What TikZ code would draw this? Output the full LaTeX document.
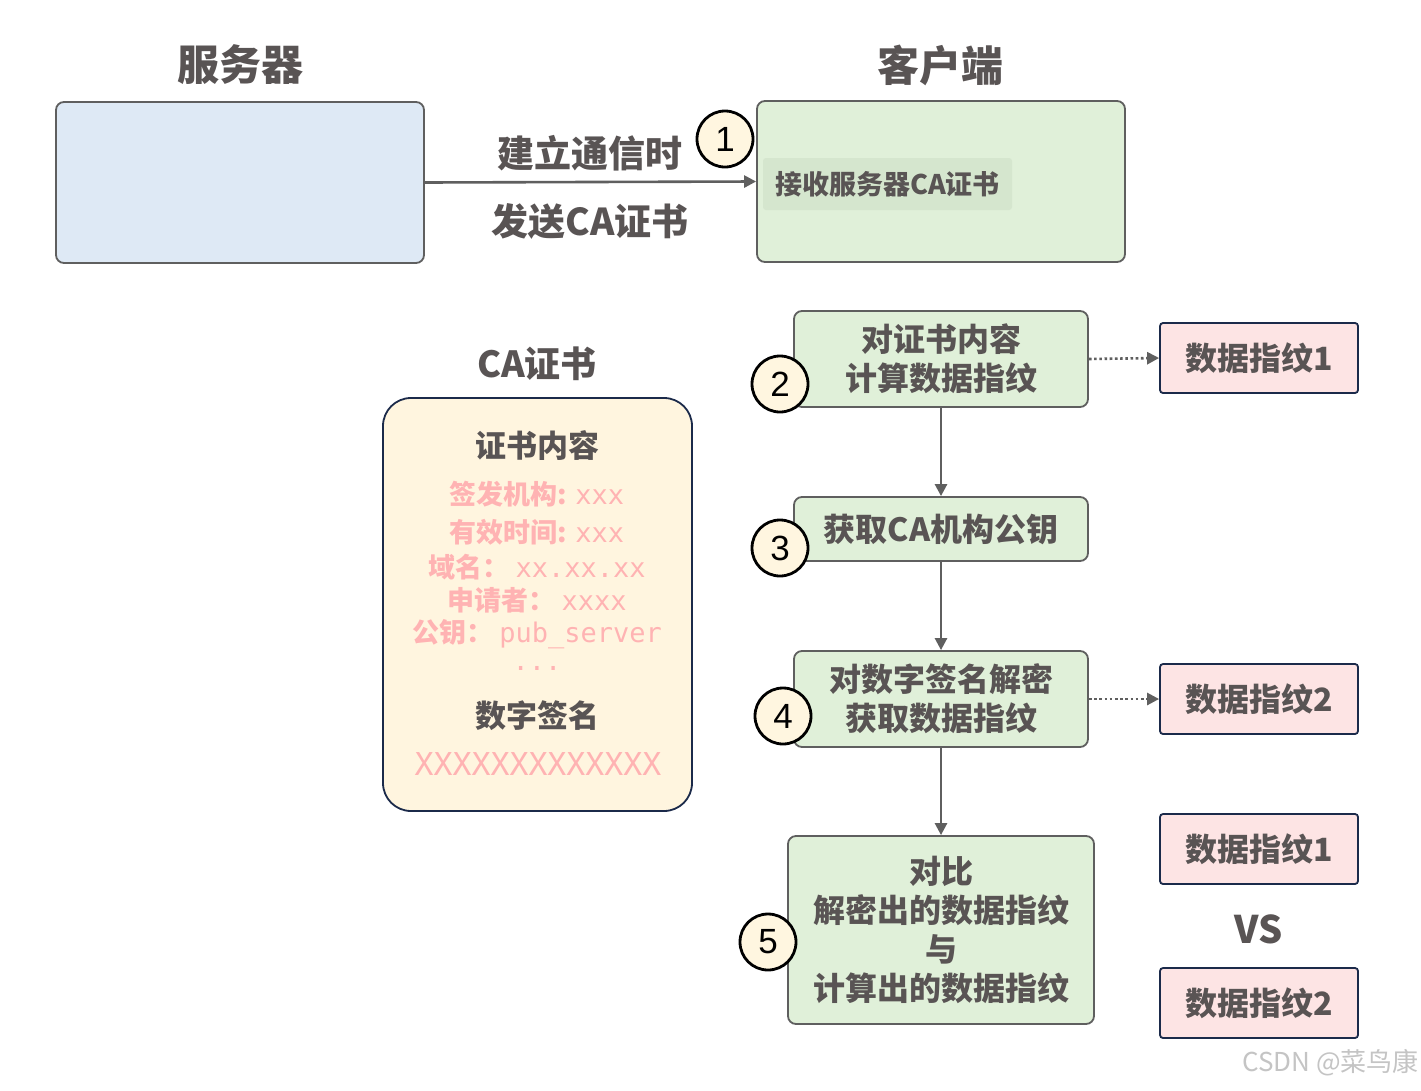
\documentclass[tikz,border=0pt]{standalone}
\usepackage{fontspec}
\setmainfont{Noto Sans CJK SC}
\newfontfamily\monof{DejaVu Sans Mono}
\newfontfamily\numf{Liberation Sans}
\usetikzlibrary{arrows.meta}
\definecolor{tx}{HTML}{595454}
\definecolor{edgegray}{HTML}{5F5F5F}
\definecolor{bluefill}{HTML}{DEE9F5}
\definecolor{greenfill}{HTML}{E0F0D9}
\definecolor{greeninner}{HTML}{D5E6CE}
\definecolor{creamfill}{HTML}{FFF5DF}
\definecolor{navy}{HTML}{1B2A4A}
\definecolor{pinkfill}{HTML}{FDE4E4}
\definecolor{pinktx}{HTML}{FFB3B3}
\definecolor{circfill}{HTML}{FFF6E0}
\definecolor{wm}{HTML}{C4C4C4}
\newcommand{\fsz}[2]{\fontsize{#1}{#2}\selectfont}
\begin{document}
\begin{tikzpicture}[x=1pt,y=-1pt,
  title/.style={text=tx,font=\fsz{42}{48}\bfseries},
  biglab/.style={text=tx,font=\fsz{37}{44}\bfseries},
  greenbox/.style={draw=edgegray,line width=1.8pt,fill=greenfill,rounded corners=8pt,text=tx,align=center,font=\fsz{32}{39}\bfseries,inner sep=0pt},
  fpbox/.style={draw=navy,line width=1.8pt,fill=pinkfill,rounded corners=3pt,text=tx,font=\fsz{32}{39}\bfseries,minimum width=198,minimum height=70,inner sep=0pt},
  numc/.style={circle,draw=black,line width=2.8pt,fill=circfill,minimum size=56,inner sep=0pt,font=\numf\fsz{35}{40}},
  pinkline/.style={text=pinktx,font=\fsz{27}{32}\bfseries,inner sep=0pt},
  arr/.style={draw=edgegray,line width=2.6pt,-{Triangle[length=12pt,width=12pt]}},
  darr/.style={draw=edgegray,line width=2.6pt,dash pattern=on 2.6pt off 2.6pt,-{Triangle[length=12pt,width=12pt]}},
]
\useasboundingbox (0,0) rectangle (1421,1090);
\fill[white] (0,0) rectangle (1421,1090);

% titles
\node[title] (tsrv) at (240,65) {服务器};
\node[title] (tcli) at (940,65) {客户端};

% server and client
\node[draw=edgegray,line width=1.8pt,fill=bluefill,rounded corners=8pt,minimum width=368,minimum height=161,inner sep=0pt] (srv) at (240,182.5) {};
\node[draw=edgegray,line width=1.8pt,fill=greenfill,rounded corners=8pt,minimum width=368,minimum height=161,inner sep=0pt] (cli) at (941,181.5) {};
\node[fill=greeninner,rounded corners=3pt,minimum width=249,minimum height=52,inner sep=0pt,text=tx,font=\fsz{27}{32}\bfseries] (recv) at (887.5,184) {接收服务器CA证书};

\draw[arr] (srv.east) -- (cli.west);
\node[biglab] (l1) at (590,153) {建立通信时};
\node[biglab] (l2) at (590,221) {发送CA证书};
\node[numc] (c1) at (725,139) {1};

% CA certificate
\node[title,font=\fsz{36}{42}\bfseries] (tca) at (537,364) {CA证书};
\node[draw=navy,line width=1.8pt,fill=creamfill,rounded corners=28pt,minimum width=309,minimum height=413,inner sep=0pt] (cab) at (537.5,604.5) {};
\node[text=tx,font=\fsz{31}{36}\bfseries] (cc) at (537,446) {证书内容};
\node[pinkline] (p1) at (537,494) {签发机构: {\monof\mdseries xxx}};
\node[pinkline] (p2) at (537,532) {有效时间: {\monof\mdseries xxx}};
\node[pinkline] (p3) at (537,567) {域名： {\monof\mdseries xx.xx.xx}};
\node[pinkline] (p4) at (537,600) {申请者： {\monof\mdseries xxxx}};
\node[pinkline] (p5) at (537,634) {公钥： {\monof\mdseries pub\_server}};
\node[pinkline] (p6) at (537,668) {\monof\mdseries ...};
\node[text=tx,font=\fsz{31}{36}\bfseries] (ds) at (537,716) {数字签名};
\node[text=pinktx,font=\monof\fsz{31.5}{36},inner sep=0pt] (dsx) at (538,764) {XXXXXXXXXXXXX};

% steps
\node[greenbox,minimum width=294,minimum height=96] (b2) at (941,359) {对证书内容\\计算数据指纹};
\node[greenbox,minimum width=294,minimum height=64] (b3) at (941,529) {获取CA机构公钥};
\node[greenbox,minimum width=294,minimum height=96] (b4) at (941,699) {对数字签名解密\\获取数据指纹};
\node[greenbox,minimum width=306,minimum height=188] (b5) at (941,930) {对比\\解密出的数据指纹\\与\\计算出的数据指纹};

\node[fpbox] (f1) at (1259,358) {数据指纹1};
\node[fpbox] (f2) at (1259,699) {数据指纹2};
\node[fpbox] (f3) at (1259,849) {数据指纹1};
\node[fpbox] (f4) at (1259,1003) {数据指纹2};
\node[text=tx,font=\fsz{38}{44}\bfseries] (vs) at (1259,929) {VS};

\draw[arr] (b2) -- (b3);
\draw[arr] (b3) -- (b4);
\draw[arr] (b4) -- (b5);
\draw[darr] (b2.east) -- (f1.west);
\draw[darr] (b4.east) -- (f2.west);

\node[numc] (c2) at (780,384) {2};
\node[numc] (c3) at (780,548) {3};
\node[numc] (c4) at (783,716) {4};
\node[numc] (c5) at (768,942) {5};

\node[text=wm,font=\fsz{26}{30},anchor=east,inner sep=0pt] (wmk) at (1419,1063) {CSDN @菜鸟康};
\end{tikzpicture}
\end{document}
